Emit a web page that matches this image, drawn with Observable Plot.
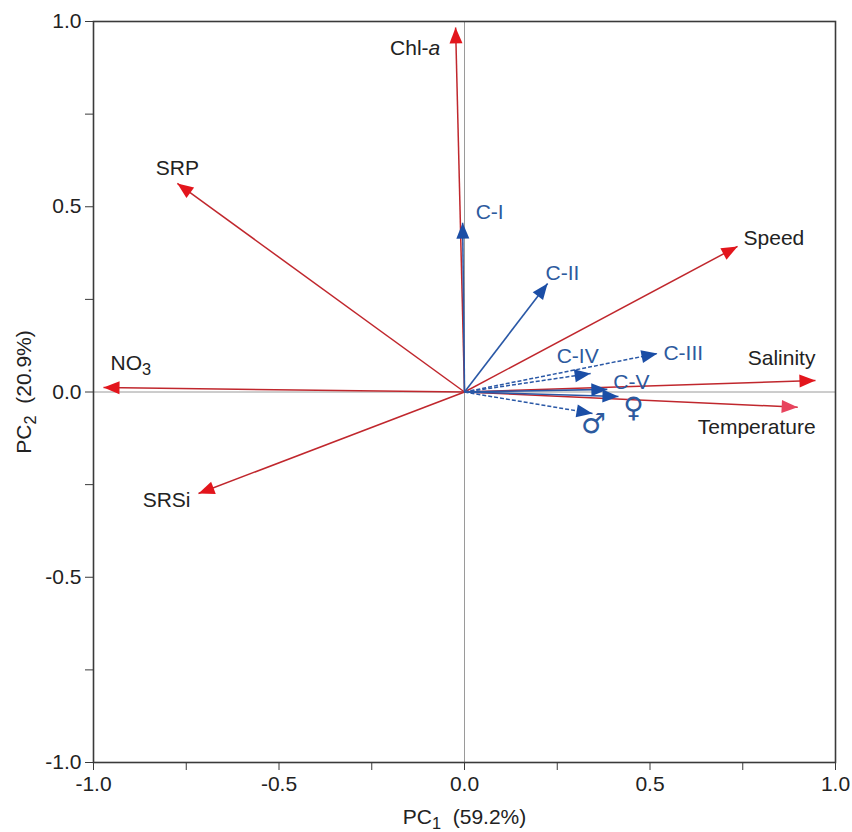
<!DOCTYPE html>
<html><head><meta charset="utf-8">
<script src="https://cdn.jsdelivr.net/npm/d3@7"></script>
<script src="https://cdn.jsdelivr.net/npm/@observablehq/plot@0.6"></script>
<style>body{margin:0;background:#fff;}</style>
</head><body><div id="chart"></div>
<script>
// Environmental variable loadings (PC1, PC2)
const envNames = ["Chl-a", "SRP", "NO₃", "SRSi", "Speed", "Salinity", "Temperature"];
const envPC1 = [-0.024, -0.774, -0.973, -0.717, 0.736, 0.946, 0.898];
const envPC2 = [0.984, 0.563, 0.012, -0.274, 0.393, 0.031, -0.041];

// Copepod stage loadings (PC1, PC2)
const stageNames = ["C-I", "C-II", "C-III", "C-IV", "C-V", "♀", "♂"];
const stagePC1 = [-0.005, 0.224, 0.520, 0.340, 0.385, 0.415, 0.345];
const stagePC2 = [0.457, 0.293, 0.104, 0.050, 0.007, -0.012, -0.058];

// Axes
const axisTicks = [-1, -0.75, -0.5, -0.25, 0, 0.25, 0.5, 0.75, 1];
const labeledTicks = [-1, -0.5, 0, 0.5, 1];
const xLabel = "PC₁  (59.2%)";
const yLabel = "PC₂  (20.9%)";

// ---- styling config ----
const dashedStages = new Set(["C-III", "C-IV", "♂"]);
const envLabelPlace = {
  "SRP": {anchor: "middle", dx: 0, dy: -15},
  "NO₃": {anchor: "start", dx: 7, dy: -24},
  "SRSi": {anchor: "end", dx: -8, dy: 7},
  "Speed": {anchor: "start", dx: 6, dy: -8},
  "Salinity": {anchor: "end", dx: 0, dy: -22},
  "Temperature": {anchor: "end", dx: 18, dy: 20}
};
const stageLabelPlace = {
  "C-I": {anchor: "start", dx: 13, dy: -10},
  "C-II": {anchor: "start", dx: -2, dy: -10},
  "C-III": {anchor: "start", dx: 6, dy: 0},
  "C-IV": {anchor: "middle", dx: -13, dy: -17},
  "C-V": {anchor: "start", dx: 6, dy: -7},
  "♀": {anchor: "middle", dx: 15, dy: 12, size: 28, font: "'DejaVu Sans', sans-serif"},
  "♂": {anchor: "middle", dx: 1, dy: 11, size: 28, font: "'DejaVu Sans', sans-serif"}
};

const env = envNames.map((name, i) => ({name, x: envPC1[i], y: envPC2[i]}));
const stages = stageNames.map((name, i) => ({name, x: stagePC1[i], y: stagePC2[i]}));

const arrowHead = {
  draw(ctx) { ctx.moveTo(0, 0); ctx.lineTo(-6.5, 16); ctx.lineTo(6.5, 16); ctx.closePath(); }
};
const rot = d => 90 - Math.atan2(d.y, d.x) * 180 / Math.PI;

const RED_LINE = "#c0272d", RED_HEAD = "#e3151c", TEMP_HEAD = "#e8445e";
const BLUE_LINE = "#2a58a6", BLUE_HEAD = "#1b4ea6", BLUE_TEXT = "#2d5a9e";
const fmt = d => labeledTicks.includes(d) ? d.toFixed(1) : "";

const marks = [
  Plot.ruleX([0], {stroke: "#9a9a9a", strokeWidth: 1}),
  Plot.ruleY([0], {stroke: "#9a9a9a", strokeWidth: 1}),
  Plot.frame({stroke: "#3a3a3a", strokeWidth: 1.6}),
  Plot.axisX({ticks: axisTicks, tickFormat: fmt, tickSize: 8, tickPadding: 6, stroke: "#3a3a3a",
    label: xLabel, labelAnchor: "center", labelOffset: 61, labelArrow: "none", fill: "#222"}),
  Plot.axisY({ticks: axisTicks, tickFormat: fmt, tickSize: 8, tickPadding: 4, stroke: "#3a3a3a",
    label: yLabel, labelAnchor: "center", labelOffset: 77, labelArrow: "none", fill: "#222"}),
  // env arrows
  Plot.link(env, {x1: () => 0, y1: () => 0, x2: "x", y2: "y", stroke: RED_LINE, strokeWidth: 1.5}),
  Plot.dot(env, {x: "x", y: "y", symbol: arrowHead, rotate: rot, r: 8, stroke: "none",
    fill: d => d.name === "Temperature" ? TEMP_HEAD : RED_HEAD}),
  // stage arrows
  Plot.link(stages.filter(d => !dashedStages.has(d.name)), {x1: () => 0, y1: () => 0, x2: "x", y2: "y", stroke: BLUE_LINE, strokeWidth: 1.6}),
  Plot.link(stages.filter(d => dashedStages.has(d.name)), {x1: () => 0, y1: () => 0, x2: "x", y2: "y", stroke: BLUE_LINE, strokeWidth: 1.5, strokeDasharray: "4,2"}),
  Plot.dot(stages, {x: "x", y: "y", symbol: arrowHead, rotate: rot, r: 8, stroke: "none", fill: BLUE_HEAD}),
  // Chl-a label (italic a)
  Plot.text(env.filter(d => d.name === "Chl-a"), {x: "x", y: "y", text: () => "Chl-", textAnchor: "end", dx: -27, dy: 21, fill: "#222"}),
  Plot.text(env.filter(d => d.name === "Chl-a"), {x: "x", y: "y", text: () => "a", fontStyle: "italic", textAnchor: "start", dx: -27, dy: 21, fill: "#222"}),
  ...Object.entries(envLabelPlace).map(([name, p]) =>
    Plot.text(env.filter(d => d.name === name), {x: "x", y: "y", text: "name", textAnchor: p.anchor, dx: p.dx, dy: p.dy, fill: "#222"})),
  ...Object.entries(stageLabelPlace).map(([name, p]) =>
    Plot.text(stages.filter(d => d.name === name), {x: "x", y: "y", text: "name", textAnchor: p.anchor, dx: p.dx, dy: p.dy,
      fill: BLUE_TEXT, fontSize: p.size || 21, ...(p.font ? {fontFamily: p.font} : {})}))
];

const chart = Plot.plot({
  width: 852, height: 832,
  marginLeft: 93, marginRight: 17, marginTop: 21, marginBottom: 70,
  style: {fontSize: "21px", fontFamily: "'Liberation Sans', Arial, sans-serif", background: "#fff", color: "#222"},
  x: {domain: [-1, 1]},
  y: {domain: [-1, 1]},
  marks
});

// Render unicode subscript digits as real SVG subscripts (larger, like the reference)
const SUB = "₀₁₂₃₄₅₆₇₈₉";
const NS = "http://www.w3.org/2000/svg";
chart.querySelectorAll("text").forEach(t => {
  if (t.children.length || !/[₀-₉]/.test(t.textContent)) return;
  const s = t.textContent;
  t.textContent = "";
  let buf = "";
  for (const ch of s) {
    const k = SUB.indexOf(ch);
    if (k >= 0) {
      if (buf) { t.appendChild(document.createTextNode(buf)); buf = ""; }
      const sub = document.createElementNS(NS, "tspan");
      sub.setAttribute("font-size", "0.78em");
      sub.setAttribute("baseline-shift", "-0.28em");
      sub.textContent = String(k);
      t.appendChild(sub);
    } else buf += ch;
  }
  if (buf) t.appendChild(document.createTextNode(buf));
});

document.getElementById("chart").appendChild(chart);
</script>
</body></html>
